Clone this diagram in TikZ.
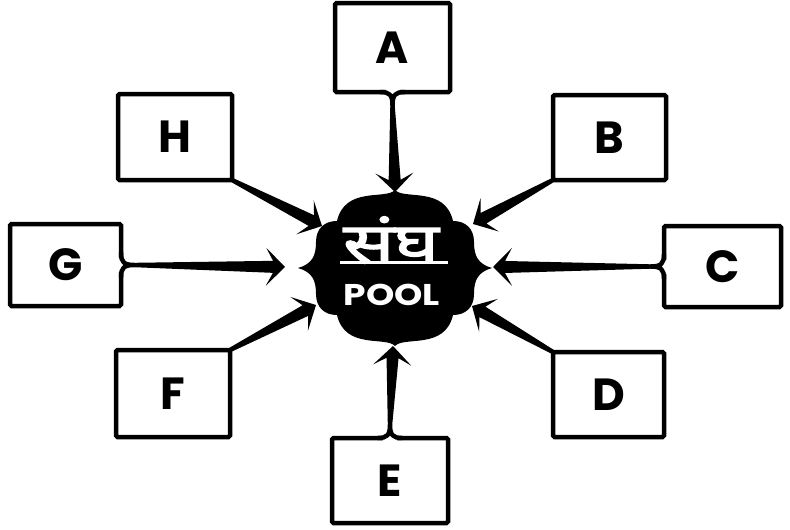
\documentclass[tikz,border=0pt]{standalone}
\usepackage{fontspec}
\setmainfont{Poppins}
\newfontfamily\deva[Script=Devanagari, FakeBold=2]{Noto Sans}
\usetikzlibrary{calc}
\tikzset{
  bline/.style={line width=4.5pt, line cap=round, line join=round},
  lbox/.style={draw, line width=4.5pt, outer sep=0pt, inner sep=0pt, rounded corners=1.5pt,
    font=\bfseries\fontsize{45}{45}\selectfont},
  ink/.style={fill=black},
  blobtext/.style={text=white, inner sep=0pt},
}
% tail of a box: #1 anchor, (#2,#3) outward direction, (#4,#5) perpendicular
\newcommand\boxtail[5]{%
  \fill[white] ($(#1)+({-7*(#4)-3*(#2)},{-7*(#5)-3*(#3)})$) rectangle ($(#1)+({7*(#4)+3*(#2)},{7*(#5)+3*(#3)})$);
  \draw[bline] ($(#1)+({-12*(#4)},{-12*(#5)})$) .. controls ($(#1)+({-3*(#4)},{-3*(#5)})$) and ($(#1)+({3*(#2)},{3*(#3)})$) .. ($(#1)+({13*(#2)},{13*(#3)})$) .. controls ($(#1)+({3*(#2)},{3*(#3)})$) and ($(#1)+({3*(#4)},{3*(#5)})$) .. ($(#1)+({12*(#4)},{12*(#5)})$);
}
% tapered arrow from #1 to tip #2
\newcommand\taper[2]{%
  \coordinate (tq1) at ($(#1)!2.2pt!90:(#2)$);
  \coordinate (tq2) at ($(#1)!2.2pt!-90:(#2)$);
  \coordinate (tn) at ($(#2)!12pt!(#1)$);
  \coordinate (tb) at ($(#2)!19pt!(#1)$);
  \coordinate (tn1) at ($(tn)!6pt!90:(#2)$);
  \coordinate (tn2) at ($(tn)!6pt!-90:(#2)$);
  \coordinate (tb1) at ($(tb)!19pt!90:(#2)$);
  \coordinate (tb2) at ($(tb)!19pt!-90:(#2)$);
  \fill[ink] (tq1) -- (tn1) -- (tb1) -- (#2) -- (tb2) -- (tn2) -- (tq2) -- cycle;
}
\begin{document}
\begin{tikzpicture}[x=1pt, y=-1pt]
\fill[white] (0,0) rectangle (790,530);
\useasboundingbox (0,0) rectangle (790,530);

% boxes
\node[lbox, minimum width=115pt, minimum height=89pt] (A) at (392.5,47.5) {A};
\node[lbox, minimum width=113pt, minimum height=85pt] (B) at (609.5,137.5) {B};
\node[lbox, minimum width=117pt, minimum height=81pt] (C) at (722.5,266.5) {C};
\node[lbox, minimum width=111pt, minimum height=85pt] (D) at (608.5,394.5) {D};
\node[lbox, minimum width=116pt, minimum height=85pt] (E) at (390,480.5) {E};
\node[lbox, minimum width=114pt, minimum height=87pt] (F) at (173,393.5) {F};
\node[lbox, minimum width=111pt, minimum height=82pt] (G) at (65.5,265) {G};
\node[lbox, minimum width=114pt, minimum height=86pt] (H) at (175,137) {H};

% blob points
\coordinate (bT) at (395,190);
\coordinate (bNW) at (337,221);
\coordinate (bL) at (298,268);
\coordinate (bSW) at (337,315);
\coordinate (bB) at (395,346);
\coordinate (bSE) at (453,315);
\coordinate (bR) at (492,268);
\coordinate (bNE) at (453,221);

% tails
\boxtail{A.south}{0}{1}{1}{0}
\boxtail{E.north}{0}{-1}{1}{0}
\boxtail{G.east}{1}{0}{0}{1}
\boxtail{C.west}{-1}{0}{0}{1}
\coordinate (a0) at ($(A.south)+(0,13)$);
\coordinate (e0) at ($(E.north)+(0,-13)$);
\coordinate (g0) at ($(G.east)+(13,0)$);
\coordinate (c0) at ($(C.west)+(-13,0)$);

% tips
\coordinate (tA) at ($(bT)+(0,2)$);
\coordinate (tE) at ($(bB)+(-2,0)$);
\coordinate (tG) at ($(bL)+(-13,-1)$);
\coordinate (tC) at ($(bR)+(1,-1)$);
\coordinate (tH) at (322,226);
\coordinate (tB) at (473,224);
\coordinate (tF) at (316,305);
\coordinate (tD) at (472,306);

% connectors
\taper{a0}{tA}
\taper{e0}{tE}
\taper{g0}{tG}
\taper{c0}{tC}
\taper{H.south east}{tH}
\taper{B.south west}{tB}
\taper{F.north east}{tF}
\taper{D.north west}{tD}

% blob
\fill[ink] (bT) .. controls (386,200) and (345,186) .. (bNW)
 .. controls (325,221) and (316,228) .. (316,242)
 .. controls (316,256) and (312,264) .. (bL)
 .. controls (312,272) and (316,280) .. (316,294)
 .. controls (316,308) and (325,315) .. (bSW)
 .. controls (345,350) and (386,336) .. (bB)
 .. controls (404,336) and (445,350) .. (bSE)
 .. controls (465,315) and (474,308) .. (474,294)
 .. controls (474,280) and (478,272) .. (bR)
 .. controls (478,264) and (474,256) .. (474,242)
 .. controls (474,228) and (465,221) .. (bNE)
 .. controls (445,186) and (404,200) .. cycle;

\node[blobtext, font=\deva\fontsize{56}{56}\selectfont, xscale=1.35] (sangh) at (391,240) {संघ};
\draw[white, line width=3pt] (340,262) -- (448,262);
\node[blobtext, font=\bfseries\fontsize{30}{30}\selectfont, xscale=1.2] (pool) at (392,295) {POOL};
\end{tikzpicture}
\end{document}
